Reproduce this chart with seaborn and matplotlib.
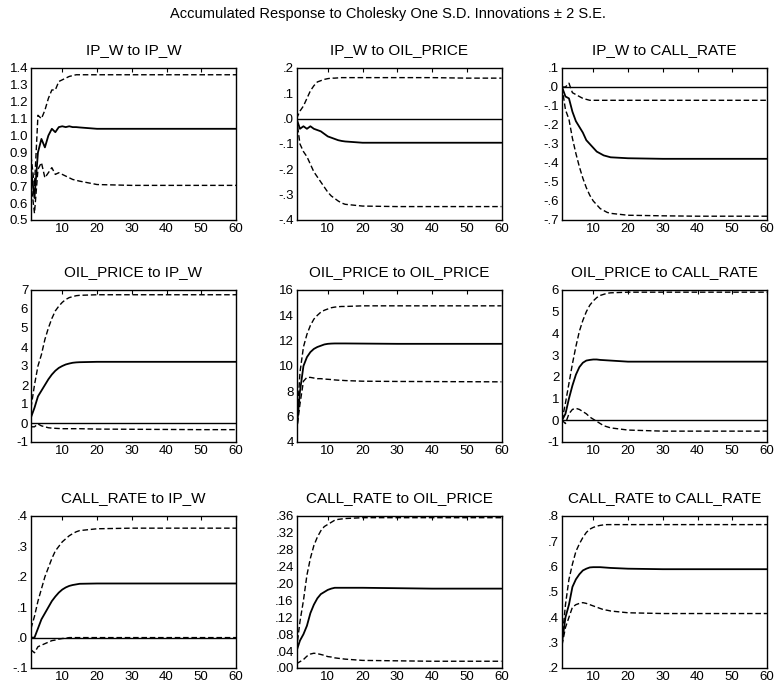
import matplotlib
matplotlib.use("Agg")
import matplotlib.pyplot as plt
import seaborn as sns
import pandas as pd

# ---------------- data ----------------
periods = [1, 2, 3, 4, 5, 6, 7, 8, 9, 10, 11, 12, 13, 14, 15, 20, 30, 40, 50, 60]

titles = ["IP_W to IP_W", "IP_W to OIL_PRICE", "IP_W to CALL_RATE",
          "OIL_PRICE to IP_W", "OIL_PRICE to OIL_PRICE", "OIL_PRICE to CALL_RATE",
          "CALL_RATE to IP_W", "CALL_RATE to OIL_PRICE", "CALL_RATE to CALL_RATE"]

# IP_W to IP_W
p1_resp = [0.80, 0.63, 0.90, 0.98, 0.93, 1.00, 1.04, 1.02, 1.05, 1.055, 1.05, 1.055, 1.05, 1.05, 1.048, 1.04, 1.04, 1.04, 1.04, 1.04]
p1_up = [0.88, 0.70, 1.12, 1.10, 1.15, 1.22, 1.27, 1.27, 1.32, 1.33, 1.34, 1.35, 1.355, 1.36, 1.36, 1.36, 1.36, 1.36, 1.36, 1.36]
p1_lo = [0.72, 0.54, 0.80, 0.84, 0.75, 0.78, 0.81, 0.77, 0.78, 0.77, 0.76, 0.75, 0.74, 0.735, 0.73, 0.71, 0.705, 0.705, 0.705, 0.705]
# IP_W to OIL_PRICE
p2_resp = [0.0, -0.04, -0.03, -0.04, -0.03, -0.04, -0.045, -0.05, -0.06, -0.07, -0.075, -0.08, -0.085, -0.088, -0.09, -0.095, -0.095, -0.095, -0.095, -0.095]
p2_up = [0.0, 0.03, 0.05, 0.08, 0.11, 0.13, 0.145, 0.15, 0.155, 0.158, 0.16, 0.16, 0.161, 0.162, 0.162, 0.162, 0.162, 0.162, 0.16, 0.16]
p2_lo = [0.0, -0.10, -0.13, -0.15, -0.18, -0.21, -0.23, -0.25, -0.27, -0.29, -0.305, -0.315, -0.325, -0.333, -0.338, -0.345, -0.347, -0.347, -0.347, -0.347]
# IP_W to CALL_RATE
p3_resp = [0.0, -0.05, -0.06, -0.13, -0.18, -0.21, -0.24, -0.28, -0.30, -0.32, -0.34, -0.35, -0.36, -0.365, -0.37, -0.375, -0.378, -0.378, -0.378, -0.378]
p3_up = [0.0, 0.0, 0.02, -0.03, -0.04, -0.05, -0.06, -0.065, -0.07, -0.07, -0.07, -0.07, -0.07, -0.07, -0.07, -0.07, -0.07, -0.07, -0.07, -0.07]
p3_lo = [0.0, -0.12, -0.17, -0.27, -0.35, -0.42, -0.48, -0.53, -0.57, -0.60, -0.62, -0.64, -0.65, -0.66, -0.665, -0.675, -0.678, -0.68, -0.68, -0.68]
# OIL_PRICE to IP_W
p4_resp = [0.3, 0.8, 1.4, 1.7, 2.0, 2.3, 2.55, 2.75, 2.9, 3.0, 3.08, 3.13, 3.17, 3.19, 3.2, 3.22, 3.22, 3.22, 3.22, 3.22]
p4_up = [0.8, 2.0, 3.0, 3.6, 4.4, 5.0, 5.5, 5.9, 6.15, 6.35, 6.5, 6.6, 6.65, 6.7, 6.72, 6.75, 6.75, 6.75, 6.75, 6.75]
p4_lo = [-0.2, -0.2, -0.05, -0.15, -0.2, -0.25, -0.27, -0.28, -0.29, -0.3, -0.3, -0.3, -0.3, -0.3, -0.3, -0.32, -0.33, -0.34, -0.35, -0.35]
# OIL_PRICE to OIL_PRICE
p5_resp = [4.8, 8.0, 10.0, 10.7, 11.1, 11.35, 11.5, 11.6, 11.7, 11.75, 11.77, 11.78, 11.78, 11.78, 11.78, 11.77, 11.75, 11.75, 11.75, 11.75]
p5_up = [5.0, 9.5, 11.5, 12.5, 13.2, 13.7, 14.0, 14.25, 14.4, 14.5, 14.6, 14.65, 14.68, 14.7, 14.7, 14.75, 14.75, 14.75, 14.75, 14.75]
p5_lo = [4.8, 7.0, 8.8, 9.1, 9.1, 9.05, 9.0, 9.0, 8.97, 8.95, 8.93, 8.9, 8.88, 8.87, 8.85, 8.8, 8.78, 8.77, 8.76, 8.75]
# OIL_PRICE to CALL_RATE
p6_resp = [0.0, 0.3, 1.0, 1.6, 2.1, 2.45, 2.65, 2.75, 2.78, 2.8, 2.8, 2.78, 2.77, 2.76, 2.75, 2.7, 2.7, 2.7, 2.7, 2.7]
p6_up = [0.0, 0.8, 1.7, 2.6, 3.4, 4.1, 4.6, 5.0, 5.3, 5.5, 5.65, 5.75, 5.8, 5.85, 5.87, 5.9, 5.9, 5.9, 5.9, 5.9]
p6_lo = [0.0, -0.15, 0.3, 0.5, 0.55, 0.5, 0.4, 0.3, 0.15, 0.05, -0.05, -0.15, -0.25, -0.3, -0.35, -0.45, -0.5, -0.5, -0.5, -0.5]
# CALL_RATE to IP_W
p7_resp = [0.0, 0.0, 0.03, 0.06, 0.08, 0.10, 0.12, 0.135, 0.148, 0.158, 0.165, 0.17, 0.173, 0.175, 0.177, 0.178, 0.178, 0.178, 0.178, 0.178]
p7_up = [0.03, 0.07, 0.12, 0.16, 0.20, 0.23, 0.26, 0.285, 0.30, 0.315, 0.325, 0.335, 0.342, 0.348, 0.352, 0.358, 0.36, 0.36, 0.36, 0.36]
p7_lo = [-0.04, -0.05, -0.03, -0.025, -0.02, -0.015, -0.01, -0.008, -0.005, -0.003, -0.002, 0.0, 0.0, 0.0, 0.0, 0.0, 0.0, 0.0, 0.0, 0.0]
# CALL_RATE to OIL_PRICE
p8_resp = [0.04, 0.065, 0.08, 0.10, 0.13, 0.15, 0.165, 0.175, 0.18, 0.185, 0.188, 0.19, 0.19, 0.19, 0.19, 0.19, 0.189, 0.188, 0.188, 0.188]
p8_up = [0.045, 0.11, 0.16, 0.22, 0.26, 0.29, 0.31, 0.325, 0.335, 0.34, 0.345, 0.35, 0.352, 0.353, 0.354, 0.356, 0.356, 0.356, 0.356, 0.356]
p8_lo = [0.01, 0.015, 0.02, 0.028, 0.033, 0.035, 0.034, 0.032, 0.03, 0.027, 0.026, 0.024, 0.023, 0.022, 0.021, 0.018, 0.017, 0.016, 0.016, 0.016]
# CALL_RATE to CALL_RATE
p9_resp = [0.30, 0.40, 0.45, 0.52, 0.55, 0.57, 0.585, 0.592, 0.597, 0.598, 0.598, 0.598, 0.597, 0.596, 0.595, 0.592, 0.59, 0.59, 0.59, 0.59]
p9_up = [0.31, 0.45, 0.55, 0.61, 0.66, 0.69, 0.715, 0.735, 0.748, 0.755, 0.76, 0.763, 0.765, 0.766, 0.766, 0.766, 0.766, 0.766, 0.766, 0.766]
p9_lo = [0.29, 0.36, 0.40, 0.44, 0.45, 0.455, 0.458, 0.455, 0.45, 0.445, 0.44, 0.435, 0.43, 0.428, 0.425, 0.418, 0.415, 0.415, 0.415, 0.415]

xticks = [10, 20, 30, 40, 50, 60]

p1_yt = [0.5, 0.6, 0.7, 0.8, 0.9, 1.0, 1.1, 1.2, 1.3, 1.4]
p1_yl = ["0.5", "0.6", "0.7", "0.8", "0.9", "1.0", "1.1", "1.2", "1.3", "1.4"]
p2_yt = [-0.4, -0.3, -0.2, -0.1, 0.0, 0.1, 0.2]
p2_yl = ["-.4", "-.3", "-.2", "-.1", ".0", ".1", ".2"]
p3_yt = [-0.7, -0.6, -0.5, -0.4, -0.3, -0.2, -0.1, 0.0, 0.1]
p3_yl = ["-.7", "-.6", "-.5", "-.4", "-.3", "-.2", "-.1", ".0", ".1"]
p4_yt = [-1, 0, 1, 2, 3, 4, 5, 6, 7]
p4_yl = ["-1", "0", "1", "2", "3", "4", "5", "6", "7"]
p5_yt = [4, 6, 8, 10, 12, 14, 16]
p5_yl = ["4", "6", "8", "10", "12", "14", "16"]
p6_yt = [-1, 0, 1, 2, 3, 4, 5, 6]
p6_yl = ["-1", "0", "1", "2", "3", "4", "5", "6"]
p7_yt = [-0.1, 0.0, 0.1, 0.2, 0.3, 0.4]
p7_yl = ["-.1", ".0", ".1", ".2", ".3", ".4"]
p8_yt = [0.0, 0.04, 0.08, 0.12, 0.16, 0.20, 0.24, 0.28, 0.32, 0.36]
p8_yl = [".00", ".04", ".08", ".12", ".16", ".20", ".24", ".28", ".32", ".36"]
p9_yt = [0.2, 0.3, 0.4, 0.5, 0.6, 0.7, 0.8]
p9_yl = [".2", ".3", ".4", ".5", ".6", ".7", ".8"]

suptitle = "Accumulated Response to Cholesky One S.D. Innovations \u00b1 2 S.E."

# ---------------- plotting ----------------
sns.set_theme(style="white")
plt.rcParams["font.family"] = ["Liberation Sans", "DejaVu Sans"]

panels = [
    (p1_resp, p1_up, p1_lo, p1_yt, p1_yl),
    (p2_resp, p2_up, p2_lo, p2_yt, p2_yl),
    (p3_resp, p3_up, p3_lo, p3_yt, p3_yl),
    (p4_resp, p4_up, p4_lo, p4_yt, p4_yl),
    (p5_resp, p5_up, p5_lo, p5_yt, p5_yl),
    (p6_resp, p6_up, p6_lo, p6_yt, p6_yl),
    (p7_resp, p7_up, p7_lo, p7_yt, p7_yl),
    (p8_resp, p8_up, p8_lo, p8_yt, p8_yl),
    (p9_resp, p9_up, p9_lo, p9_yt, p9_yl),
]

W, H = 775, 686
fig = plt.figure(figsize=(W / 100, H / 100), dpi=100)

row_tops = [68, 290, 516]
ax_h = 152

for i, (resp, up, lo, yt, yl) in enumerate(panels):
    r, c = divmod(i, 3)
    left = 31 + 265.5 * c
    top = row_tops[r]
    ax = fig.add_axes([left / W, 1 - (top + ax_h) / H, 205 / W, ax_h / H])
    df = pd.DataFrame({"period": periods, "resp": resp, "up": up, "lo": lo})
    ax.axhline(0, color="black", linewidth=1.0, zorder=1)
    sns.lineplot(data=df, x="period", y="resp", ax=ax, color="black", linewidth=1.3)
    sns.lineplot(data=df, x="period", y="up", ax=ax, color="black", linewidth=1.0,
                 linestyle=(0, (4, 2)))
    sns.lineplot(data=df, x="period", y="lo", ax=ax, color="black", linewidth=1.0,
                 linestyle=(0, (4, 2)))
    ax.set_xlim(1, 60)
    ax.set_ylim(yt[0], yt[-1])
    ax.set_xticks(xticks)
    ax.set_xticklabels([str(t) for t in xticks])
    ax.set_yticks(yt)
    ax.set_yticklabels(yl)
    ax.set_xlabel("")
    ax.set_ylabel("")
    ax.tick_params(axis="both", direction="in", length=3, width=0.8, labelsize=9.5,
                   colors="black", top=True, right=False, pad=2)
    ax.tick_params(axis="y", left=False)
    for s in ax.spines.values():
        s.set_color("black")
        s.set_linewidth(1.0)
    ax.set_title(titles[i], fontsize=11, pad=10, color="black")

fig.text(0.5, 1 - 14 / H, suptitle, ha="center", va="center", fontsize=10.5, color="black")

fig.savefig("out.png", dpi=100, facecolor="white")
